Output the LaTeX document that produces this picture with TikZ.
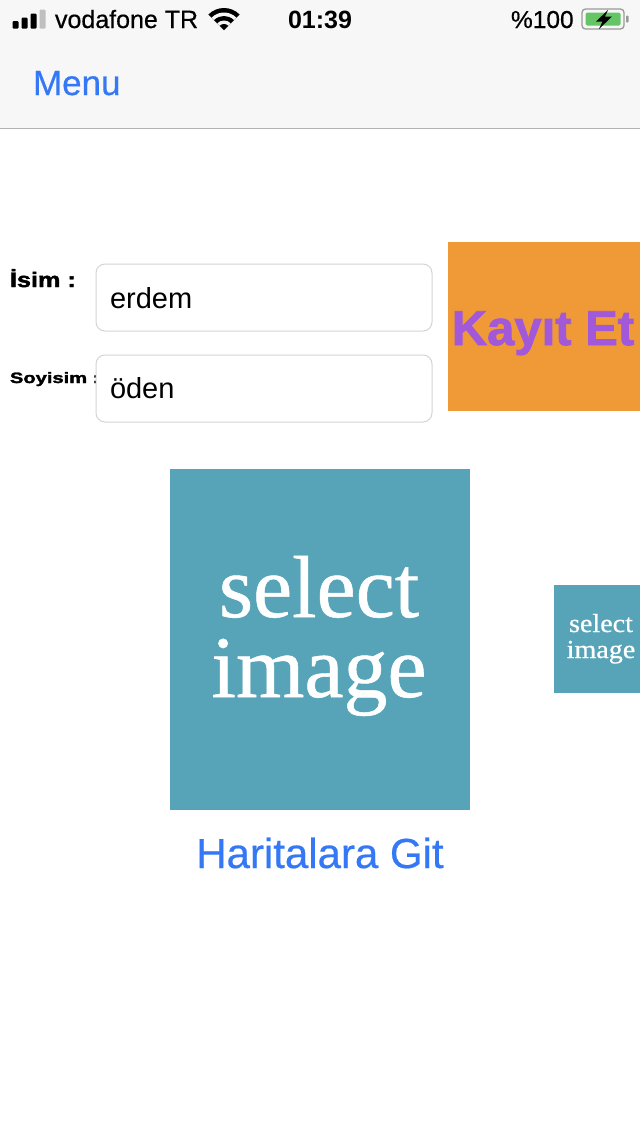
\documentclass[tikz,border=0pt]{standalone}
\usepackage{fontspec}
\usepackage{graphicx}
\setmainfont{Liberation Sans}
\newfontfamily\serifimg[FakeBold=0.6]{Liberation Serif}
\newfontfamily\heavyfont[FakeBold=1.8]{Liberation Sans Bold}
\newfontfamily\mediumfont[FakeBold=0.5]{Liberation Sans}
\definecolor{iosblue}{HTML}{3478F6}
\definecolor{navbg}{HTML}{F7F7F7}
\definecolor{navline}{HTML}{B2B2B2}
\definecolor{fieldline}{HTML}{D4D4D4}
\definecolor{orangebtn}{HTML}{F09A37}
\definecolor{purpletxt}{HTML}{A259D9}
\definecolor{tealbox}{HTML}{57A4B8}
\definecolor{batgreen}{HTML}{65C466}
\definecolor{batgray}{HTML}{9A9A9A}
\tikzset{
  txt/.style={inner sep=0pt, outer sep=0pt},
  fieldbox/.style={draw=fieldline, line width=1pt, rounded corners=9pt, fill=white},
  fs/.style={font=\fontsize{#1}{#1}\selectfont},
}
\begin{document}
\begin{tikzpicture}[x=1pt,y=-1pt]
\useasboundingbox (0,0) rectangle (640,1136);
\fill[white] (0,0) rectangle (640,1136);
% navigation / status bar
\fill[navbg] (0,0) rectangle (640,128);
\draw[navline, line width=1pt] (0,128) -- (640,128);
% signal bars
\fill[black, rounded corners=1pt] (12.5,21) rectangle (18.5,28.5);
\fill[black, rounded corners=1pt] (21.5,17.5) rectangle (27.5,28.5);
\fill[black, rounded corners=1pt] (30.5,13.5) rectangle (36.5,28.5);
\fill[black!25, rounded corners=1pt] (39.5,9.5) rectangle (45.5,28.5);
\node[txt, anchor=base west, font=\mediumfont\fontsize{25}{25}\selectfont] (carrier) at (55,28) {vodafone TR};
% wifi
\coordinate (wifi) at (224,30);
\fill[black] (wifi) -- ++(225:22) arc[start angle=225, end angle=315, radius=22] -- cycle;
\fill[navbg] (wifi) -- ++(225:17.5) arc[start angle=225, end angle=315, radius=17.5] -- cycle;
\fill[black] (wifi) -- ++(225:14) arc[start angle=225, end angle=315, radius=14] -- cycle;
\fill[navbg] (wifi) -- ++(225:9.5) arc[start angle=225, end angle=315, radius=9.5] -- cycle;
\fill[black] (wifi) -- ++(225:6) arc[start angle=225, end angle=315, radius=6] -- cycle;
\node[txt, anchor=base, font=\bfseries\fontsize{25}{25}\selectfont] (clock) at (320,28) {01:39};
\node[txt, anchor=base west, font=\mediumfont\fontsize{24.5}{25}\selectfont] (battxt) at (511,28) {\%100};
% battery
\draw[batgray, line width=1.3pt, rounded corners=3.5pt] (582,9) rectangle (624,29);
\fill[batgreen, rounded corners=1.5pt] (585.5,12.5) rectangle (620.5,25.5);
\fill[batgray, rounded corners=0.8pt] (626,15.5) rectangle (628.5,22.5);
\fill[black] (608,10) -- (596,21.5) -- (602.5,21.5) -- (599,29) -- (612,16.5) -- (605,16.5) -- cycle;
\node[txt, anchor=base west, text=iosblue, font=\mediumfont\fontsize{35}{35}\selectfont] (menu) at (33,95) {Menu};
% form
\node[txt, anchor=base west, font=\heavyfont\fontsize{21}{21}\selectfont] (isimlbl) at (10,287) {\scalebox{1.2}[1]{İsim :}};
\node[txt, anchor=base west, font=\heavyfont\fontsize{15}{15}\selectfont] (soylbl) at (10,383) {\scalebox{1.34}[1]{Soyisim :}};
\draw[fieldbox] (96,264) rectangle (432,331);
\draw[fieldbox] (96,355) rectangle (432,422);
\node[txt, anchor=base west, fs=29] (isim) at (110,308) {erdem};
\node[txt, anchor=base west, fs=29] (soyisim) at (110,398) {öden};
% register button
\fill[orangebtn] (448,242) rectangle (640,411);
\node[txt, anchor=base, text=purpletxt, font=\heavyfont\fontsize{49}{49}\selectfont] (kayit) at (543,345) {\scalebox{1.0}[1]{Kayıt Et}};
% big image
\fill[tealbox] (170,469) rectangle (470,810);
\node[txt, anchor=base, text=white, font=\serifimg\fontsize{88}{88}\selectfont] (sel1) at (319,617) {select};
\node[txt, anchor=base, text=white, font=\serifimg\fontsize{88}{88}\selectfont] (img1) at (319,697) {image};
% small image
\fill[tealbox] (554,585) rectangle (640,693);
\node[txt, anchor=base, text=white, font=\serifimg\fontsize{26}{26}\selectfont] (sel2) at (601,632) {\scalebox{1.08}[1]{select}};
\node[txt, anchor=base, text=white, font=\serifimg\fontsize{26}{26}\selectfont] (img2) at (601,658) {\scalebox{1.08}[1]{image}};
% map link
\node[txt, anchor=base, text=iosblue, font=\mediumfont\fontsize{42}{42}\selectfont] (harita) at (320,868) {Haritalara Git};
\end{tikzpicture}
\end{document}
